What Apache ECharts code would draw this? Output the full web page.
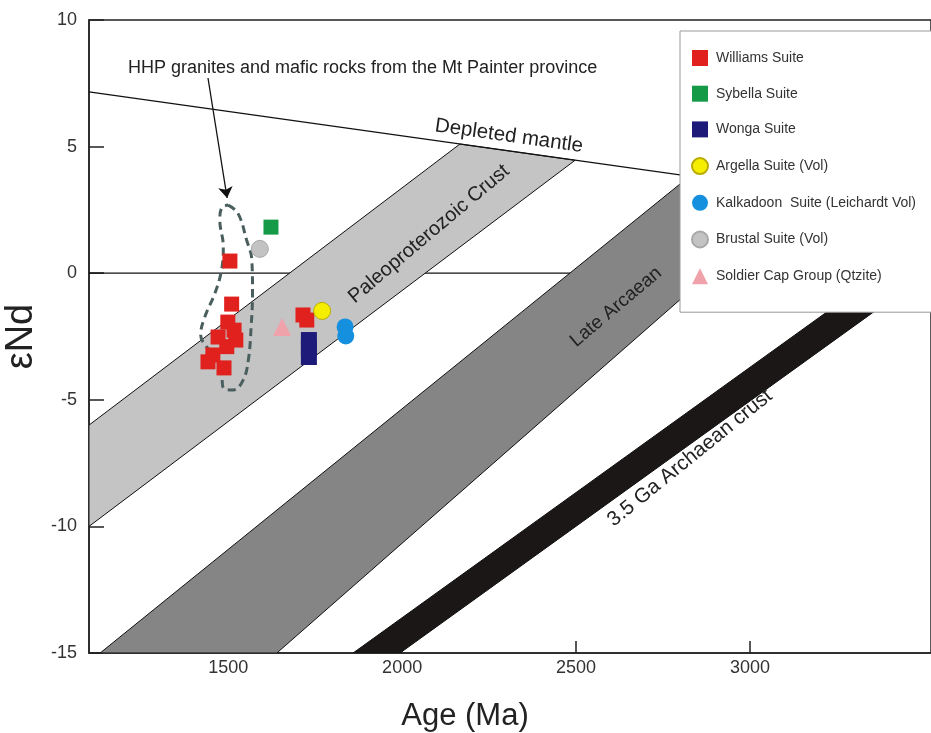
<!DOCTYPE html>
<html>
<head>
<meta charset="utf-8">
<script src="https://cdn.jsdelivr.net/npm/echarts@6/dist/echarts.min.js"></script>
<style>
  html, body { margin: 0; padding: 0; background: #fff; }
  #chart { width: 931px; height: 733px; }
</style>
</head>
<body>
<div id="chart"></div>
<script>
// axis ticks
const xTicks = [1500, 2000, 2500, 3000];
const xRange = [1100, 3520];
const yRange = [-15, 10];

// sample points: age (Ma) and eNd
const williamsAge = [1505, 1510, 1499, 1517, 1471, 1522, 1496, 1456, 1442, 1488, 1715, 1726];
const williamsNd  = [0.48, -1.22, -1.93, -2.25, -2.52, -2.64, -2.90, -3.23, -3.50, -3.74, -1.65, -1.85];
const sybellaAge = [1623];
const sybellaNd  = [1.82];
const wongaAge = [1732, 1732, 1732];
const wongaNd  = [-2.64, -2.95, -3.31];
const argellaAge = [1770];
const argellaNd  = [-1.49];
const kalkadoonAge = [1836, 1838];
const kalkadoonNd  = [-2.12, -2.48];
const brustalAge = [1591];
const brustalNd  = [0.96];
const soldierAge = [1655];
const soldierNd  = [-2.12];

// reference lines and evolution bands [age, eNd]
const depletedMantle = [[1100, 7.16], [3520, 2.49]];
const zeroLine = [[1100, 0], [3520, 0]];
const paleoBand = [[1100, -6.0], [2166, 5.10], [2497, 4.46], [1100, -10.0]];
const lateArcBand = [[1132, -15], [2821, 3.77], [3152, 3.21], [1640, -15]];
const archBand = [[1859, -15], [3520, 1.43], [3520, 0.10], [1994, -15]];

// HHP field outline and arrow
const hhpOutline = [
  [1500, 2.69], [1528, 2.37], [1553, 1.31], [1568, 0.52], [1570, -0.78], [1566, -2.11],
  [1558, -3.43], [1543, -4.22], [1515, -4.61], [1486, -4.53], [1481, -3.94], [1467, -3.30],
  [1438, -2.91], [1421, -2.44], [1433, -1.72], [1462, -0.79], [1481, 0.13], [1486, 1.05],
  [1476, 2.10], [1481, 2.57], [1500, 2.69]
];
const hhpArrow = [[1442, 7.71], [1497, 2.97]];

const zip = (a, b) => a.map((v, i) => [v, b[i]]);
const FONT = 'Liberation Sans, Arial, sans-serif';

function band(name, verts, fill) {
  return {
    name: name,
    type: 'custom',
    z: 2,
    clip: true,
    silent: true,
    data: [verts[0]],
    renderItem: function (params, api) {
      return {
        type: 'polygon',
        shape: { points: verts.map(p => api.coord(p)) },
        style: { fill: fill, stroke: '#111', lineWidth: 1 }
      };
    }
  };
}

function pts(name, data, symbol, size, color, border) {
  return {
    name: name,
    type: 'scatter',
    z: 6,
    symbol: symbol,
    symbolSize: size,
    data: data,
    itemStyle: {
      color: color,
      borderColor: border || color,
      borderWidth: border ? 1 : 0,
      opacity: 1
    }
  };
}

function label(text, x, y, size, rot) {
  return {
    type: 'text', x: x, y: y, rotation: rot || 0, z: 10,
    style: { text: text, font: size + 'px ' + FONT, fill: '#222', align: 'center', verticalAlign: 'middle' }
  };
}

const chart = echarts.init(document.getElementById('chart'));

const option = {
  animation: false,
  backgroundColor: '#fff',
  grid: {
    left: 89, right: 0, top: 20, bottom: 80,
    outerBoundsMode: 'none',
    show: true, borderColor: '#222', borderWidth: 1.5, backgroundColor: 'transparent'
  },
  xAxis: {
    type: 'value',
    min: xRange[0], max: xRange[1],
    name: 'Age (Ma)',
    nameLocation: 'middle',
    nameGap: 48,
    nameTextStyle: { fontSize: 31, color: '#222', fontFamily: FONT, padding: [0, 90, 0, 0] },
    splitLine: { show: false },
    axisLine: { onZero: false, lineStyle: { color: '#222', width: 1.5 } },
    axisTick: { inside: true, length: 12, customValues: xTicks, lineStyle: { color: '#222', width: 1.5 } },
    axisLabel: { customValues: xTicks, formatter: v => String(v), fontSize: 18, color: '#333', fontFamily: FONT, margin: 6 }
  },
  yAxis: {
    type: 'value',
    min: yRange[0], max: yRange[1], interval: 5,
    name: 'εNd',
    nameLocation: 'middle',
    nameRotate: 90,
    nameGap: 28,
    nameTextStyle: { fontSize: 38, color: '#222', fontFamily: FONT },
    splitLine: { show: false },
    axisLine: { onZero: false, lineStyle: { color: '#222', width: 1.5 } },
    axisTick: { inside: true, length: 15, lineStyle: { color: '#222', width: 1.5 } },
    axisLabel: { fontSize: 18, color: '#333', fontFamily: FONT, margin: 12 }
  },
  legend: {
    orient: 'vertical',
    left: 680, top: 31,
    z: 20,
    data: [
      'Williams Suite', 'Sybella Suite', 'Wonga Suite', 'Argella Suite (Vol)',
      'Kalkadoon  Suite (Leichardt Vol)', 'Brustal Suite (Vol)', 'Soldier Cap Group (Qtzite)'
    ],
    itemWidth: 16, itemHeight: 16, itemGap: 19.7,
    padding: [19, 40, 28, 11],
    backgroundColor: '#fff',
    borderColor: '#999', borderWidth: 1,
    textStyle: { fontSize: 14, color: '#333', fontFamily: FONT, padding: [0, 0, 0, 3] }
  },
  graphic: [
    { type: 'text', x: 128, y: 68, z: 10,
      style: { text: 'HHP granites and mafic rocks from the Mt Painter province', font: '18px ' + FONT, fill: '#222', verticalAlign: 'middle' } },
    label('Depleted mantle', 509, 136, 20.5, -0.14),
    label('Paleoproterozoic Crust', 429, 234, 20, 0.7),
    label('Late Arcaean', 616, 307, 19, 0.7),
    label('3.5 Ga Archaean crust', 690, 458, 20.5, 0.68)
  ],
  series: [
    { name: 'zero', type: 'line', z: 1, silent: true, symbol: 'none', data: zeroLine,
      lineStyle: { color: '#111', width: 1.2 } },
    band('Paleoproterozoic', paleoBand, '#c4c4c4'),
    band('Late Arcaean', lateArcBand, '#858585'),
    band('3.5 Ga', archBand, '#1a1716'),
    { name: 'DM', type: 'line', z: 3, silent: true, symbol: 'none', data: depletedMantle,
      lineStyle: { color: '#111', width: 1.3 } },
    { name: 'HHP', type: 'line', z: 4, silent: true, symbol: 'none', smooth: 0.4, data: hhpOutline,
      lineStyle: { color: '#4a5e5e', width: 3, type: [8, 5] } },
    { name: 'arrow', type: 'lines', coordinateSystem: 'cartesian2d', z: 4, silent: true,
      symbol: ['none', 'arrow'], symbolSize: 11,
      data: [{ coords: hhpArrow }],
      lineStyle: { color: '#111', width: 1.3, opacity: 1 } },
    pts('Williams Suite', zip(williamsAge, williamsNd), 'rect', 15, '#e0211d'),
    pts('Sybella Suite', zip(sybellaAge, sybellaNd), 'rect', 15, '#159a48'),
    pts('Wonga Suite', zip(wongaAge, wongaNd), 'rect', 16, '#1d1a79'),
    pts('Argella Suite (Vol)', zip(argellaAge, argellaNd), 'circle', 17, '#f6ee00', '#b8ac00'),
    pts('Kalkadoon  Suite (Leichardt Vol)', zip(kalkadoonAge, kalkadoonNd), 'circle', 17, '#1590df'),
    pts('Brustal Suite (Vol)', zip(brustalAge, brustalNd), 'circle', 17, '#c3c3c3', '#a8a8a8'),
    pts('Soldier Cap Group (Qtzite)', zip(soldierAge, soldierNd), 'triangle', 18, '#f0a2aa')
  ]
};

chart.setOption(option);
</script>
</body>
</html>
